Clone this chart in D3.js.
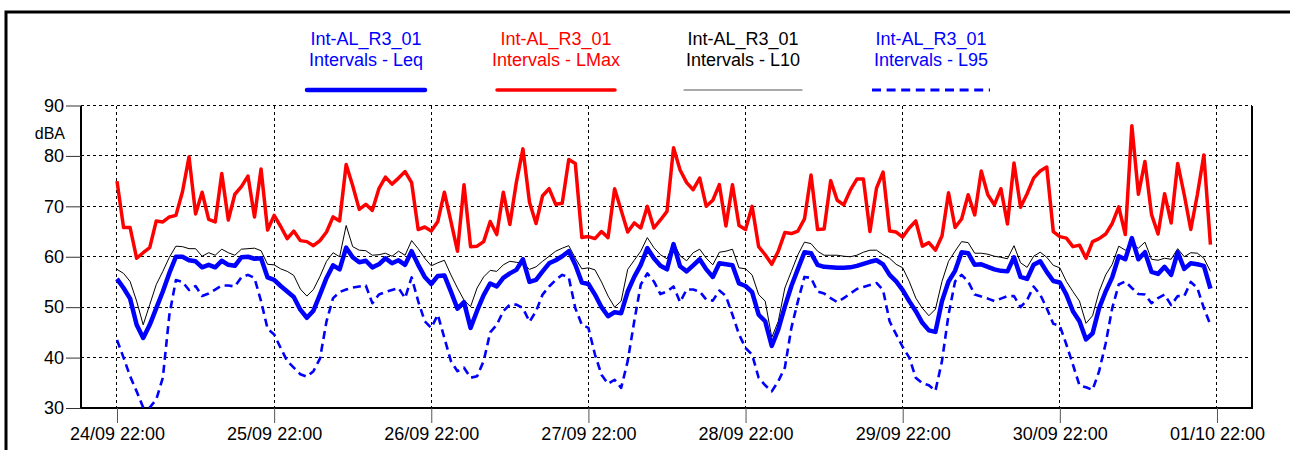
<!DOCTYPE html>
<html>
<head>
<meta charset="utf-8">
<script src="https://cdn.jsdelivr.net/npm/d3@7"></script>
<style>
  body { margin: 0; background: #fff; }
  svg { display: block; }
  text { font-family: "Liberation Sans", Arial, sans-serif; }
</style>
</head>
<body>
<svg id="chart" width="1290" height="450"></svg>
<script>
// ---------- data ----------
const startTime = new Date(2023, 8, 24, 22, 0, 0); // 24/09 22:00, hourly intervals
const tickLabels = ["24/09 22:00", "25/09 22:00", "26/09 22:00", "27/09 22:00",
                    "28/09 22:00", "29/09 22:00", "30/09 22:00", "01/10 22:00"];
const yTicks = [30, 40, 50, 60, 70, 80, 90];
const yUnit = "dBA";
const seriesTitle = ["Int-AL_R3_01", "Int-AL_R3_01", "Int-AL_R3_01", "Int-AL_R3_01"];
const seriesNames = ["Intervals - Leq", "Intervals - LMax", "Intervals - L10", "Intervals - L95"];

const leq = [
  55.6, 53.8, 51.7, 46.5, 43.9, 46.5, 49.8, 53.1, 56.8, 60.0, 60.0, 59.3, 59.1, 57.9, 58.4, 57.9, 59.2, 58.4, 58.2, 59.9, 60.0, 59.6, 59.7, 55.9, 55.4, 54.2, 53.1, 52.0, 49.5,
  47.9, 49.3, 52.5, 55.8, 58.3, 57.5, 61.8, 59.9, 58.9, 59.2, 57.9, 58.5, 59.7, 58.7, 59.3, 58.4, 61.1, 58.4, 56.0, 54.6, 56.2, 56.3, 53.1, 49.7, 51.0, 45.9, 49.3, 52.4, 54.7,
  54.1, 55.8, 56.7, 57.4, 59.5, 55.0, 55.4, 57.1, 58.7, 59.3, 60.1, 61.1, 58.4, 54.9, 54.6, 52.5, 50.0, 48.2, 49.0, 48.8, 53.1, 56.0, 58.4, 61.7, 59.7, 58.2, 57.5, 62.5, 58.1,
  57.1, 58.3, 59.5, 57.5, 56.0, 58.7, 58.5, 58.3, 54.7, 54.2, 53.0, 48.5, 47.2, 42.3, 45.6, 50.1, 54.2, 57.6, 60.9, 60.7, 58.4, 58.0, 57.9, 57.8, 57.8, 57.9, 58.2, 58.6, 59.0,
  59.3, 58.5, 56.4, 55.1, 53.4, 51.2, 49.2, 46.9, 45.4, 45.1, 51.2, 55.1, 57.2, 60.9, 60.7, 58.4, 58.5, 58.0, 57.5, 57.2, 57.1, 59.9, 56.0, 55.6, 58.4, 59.1, 57.0, 55.2, 54.9,
  52.5, 49.2, 47.2, 43.6, 44.8, 49.8, 53.1, 55.9, 60.1, 59.5, 63.7, 59.5, 60.9, 57.0, 56.6, 58.0, 56.4, 60.9, 57.6, 58.7, 58.5, 58.2, 53.7
];
const lmax = [
  75.0, 65.8, 65.8, 59.7, 60.8, 61.8, 67.1, 66.9, 67.9, 68.2, 72.9, 79.8, 68.5, 72.8, 67.4, 66.9, 76.5, 67.3, 72.4, 73.9, 76.0, 67.9, 77.4, 65.3, 68.2, 66.0, 63.6, 65.1, 63.2,
  63.0, 62.2, 63.2, 64.9, 67.9, 67.1, 78.3, 74.1, 69.4, 70.4, 69.2, 73.5, 75.8, 74.4, 75.6, 76.9, 74.7, 65.4, 65.9, 65.1, 67.0, 72.8, 67.0, 61.1, 74.3, 62.0, 62.1, 63.0, 67.0,
  64.4, 72.8, 66.4, 74.8, 81.4, 70.8, 66.6, 72.1, 73.5, 70.4, 70.6, 79.3, 78.5, 63.8, 64.0, 63.6, 65.0, 63.8, 73.5, 69.2, 64.9, 66.7, 65.7, 70.0, 65.7, 67.3, 69.0, 81.6, 77.2,
  74.7, 73.3, 75.6, 70.0, 71.2, 74.3, 66.1, 74.3, 66.2, 65.4, 70.0, 62.0, 60.4, 58.5, 61.1, 64.8, 64.6, 65.1, 67.5, 76.2, 65.4, 65.5, 75.1, 71.2, 70.3, 73.2, 75.4, 75.4, 65.0,
  73.6, 76.8, 65.1, 64.9, 63.9, 65.7, 67.1, 62.1, 62.8, 61.3, 64.1, 72.7, 65.8, 67.5, 72.3, 68.3, 77.0, 72.3, 70.3, 73.5, 66.5, 78.6, 69.8, 72.5, 75.6, 77.0, 77.8, 65.0, 64.0,
  63.7, 62.0, 62.3, 59.7, 63.0, 63.6, 64.5, 66.6, 69.9, 64.4, 86.0, 72.4, 78.9, 68.4, 64.5, 72.5, 66.7, 78.5, 72.3, 65.4, 72.3, 80.2, 62.4
];
const l10 = [
  57.5, 56.7, 55.1, 51.2, 46.5, 50.5, 54.5, 57.1, 59.9, 62.1, 62.0, 61.6, 61.6, 60.1, 60.8, 60.3, 61.5, 60.8, 60.3, 61.5, 61.6, 61.7, 61.2, 58.5, 58.4, 57.6, 57.1, 56.3, 53.6,
  52.2, 53.5, 56.1, 59.1, 60.8, 60.0, 66.2, 62.0, 61.3, 61.2, 60.3, 60.4, 60.7, 60.1, 61.1, 60.3, 63.2, 61.6, 59.7, 58.2, 58.8, 59.3, 56.4, 53.8, 51.4, 50.1, 53.8, 56.0, 57.3,
  57.1, 58.4, 59.1, 58.9, 58.7, 57.5, 58.0, 59.1, 60.1, 61.1, 61.7, 62.2, 59.7, 57.6, 57.8, 57.4, 55.0, 52.2, 50.0, 51.2, 57.5, 59.3, 61.1, 63.8, 61.8, 60.4, 59.6, 62.8, 60.2,
  59.2, 60.8, 61.5, 59.7, 58.4, 60.9, 61.1, 61.5, 57.8, 57.6, 56.4, 52.5, 51.2, 44.0, 47.2, 53.8, 57.1, 60.4, 62.9, 62.6, 61.1, 60.3, 60.3, 60.3, 60.1, 60.0, 60.3, 60.9, 61.3,
  61.3, 60.4, 59.7, 58.5, 57.8, 55.1, 51.8, 49.8, 48.3, 49.6, 55.1, 59.1, 61.1, 63.0, 62.8, 60.7, 60.7, 60.5, 60.1, 59.9, 59.6, 62.2, 58.8, 57.9, 60.1, 60.9, 59.9, 58.3, 57.8,
  55.1, 53.1, 51.2, 46.8, 48.3, 53.1, 56.4, 58.5, 62.1, 61.3, 62.4, 61.7, 62.9, 59.5, 59.3, 59.7, 59.5, 61.6, 60.0, 60.8, 60.7, 59.7, 57.1
];
const l95 = [
  43.5, 40.0, 36.3, 33.3, 30.1, 30.1, 31.7, 36.0, 48.5, 55.4, 55.0, 53.4, 54.2, 52.2, 52.7, 53.5, 54.3, 54.3, 54.1, 55.9, 56.4, 55.8, 51.2, 45.7, 44.6, 41.9, 39.3, 38.0, 36.7,
  36.2, 37.3, 39.8, 47.2, 51.8, 53.0, 53.5, 53.9, 54.1, 54.3, 50.8, 52.5, 53.0, 53.4, 53.8, 51.8, 55.9, 51.2, 47.2, 45.9, 48.5, 43.9, 39.3, 37.3, 38.0, 36.0, 36.3, 39.3, 45.0,
  46.5, 49.2, 50.5, 50.5, 49.8, 47.1, 49.2, 52.5, 54.1, 55.4, 56.4, 55.9, 49.8, 46.5, 45.9, 40.6, 36.6, 34.8, 35.6, 34.0, 39.3, 47.2, 54.5, 56.7, 55.1, 52.6, 53.1, 54.1, 51.0,
  53.5, 53.5, 53.1, 51.5, 51.3, 53.3, 52.2, 48.5, 44.6, 41.9, 40.6, 36.0, 34.5, 33.3, 35.3, 38.0, 45.9, 51.2, 56.0, 55.8, 53.1, 52.7, 51.8, 51.0, 51.8, 52.7, 53.6, 54.0, 54.4,
  54.8, 53.4, 47.2, 44.6, 42.1, 40.0, 36.0, 34.9, 34.5, 33.4, 39.3, 48.5, 55.1, 56.4, 55.1, 52.5, 52.1, 51.7, 51.2, 51.7, 52.2, 52.2, 50.0, 51.4, 54.1, 52.5, 49.8, 46.7, 46.3,
  42.6, 38.6, 34.5, 34.1, 33.6, 37.3, 42.8, 49.8, 54.5, 55.1, 53.8, 52.6, 52.5, 50.8, 51.8, 52.5, 50.4, 52.2, 52.2, 55.0, 53.8, 49.8, 46.5
];

// ---------- layout ----------
const svg = d3.select("#chart");
const plot = { left: 81, right: 1252, top: 105.5, bottom: 408 };
const HOUR = 3600 * 1000;
const times = leq.map((_, i) => new Date(startTime.getTime() + i * HOUR));
const tickDates = tickLabels.map((_, i) => new Date(startTime.getTime() + i * 24 * HOUR));

const x = d3.scaleTime()
  .domain([new Date(startTime.getTime() - 5.498 * HOUR), new Date(startTime.getTime() + 173.35 * HOUR)])
  .range([plot.left, plot.right]);
const y = d3.scaleLinear().domain([30, 90]).range([plot.bottom, plot.top]);

// outer frame
svg.append("path")
  .attr("d", "M6,452 L6,12 L1292,12")
  .attr("fill", "none").attr("stroke", "#000").attr("stroke-width", 3);

// grid
const grid = svg.append("g");
grid.selectAll("line.h").data(yTicks.filter(v => v > 30)).join("line")
  .attr("x1", plot.left).attr("x2", plot.right)
  .attr("y1", d => y(d)).attr("y2", d => y(d))
  .attr("stroke", "#000").attr("stroke-width", 1).attr("stroke-dasharray", "3,3")
  .attr("shape-rendering", "crispEdges");
grid.selectAll("line.v").data(tickDates).join("line")
  .attr("x1", d => x(d)).attr("x2", d => x(d))
  .attr("y1", plot.top).attr("y2", plot.bottom)
  .attr("stroke", "#000").attr("stroke-width", 1).attr("stroke-dasharray", "3,3")
  .attr("shape-rendering", "crispEdges");

// plot borders (left, right, bottom solid)
svg.append("path")
  .attr("d", `M${plot.left},${plot.top} L${plot.left},${plot.bottom} L${plot.right},${plot.bottom} L${plot.right},${plot.top}`)
  .attr("fill", "none").attr("stroke", "#000").attr("stroke-width", 1.2)
  .attr("shape-rendering", "crispEdges");

// axes
const yAxis = d3.axisLeft(y).tickValues(yTicks).tickSize(15).tickPadding(2).tickFormat(d3.format("d"));
const gy = svg.append("g").attr("transform", `translate(${plot.left},0)`).call(yAxis);
gy.select(".domain").remove();
gy.selectAll(".tick line").attr("stroke", "#333");
gy.selectAll(".tick text").attr("font-size", 18).attr("fill", "#000")
  .attr("font-family", '"Liberation Sans", Arial, sans-serif');

const xAxis = d3.axisBottom(x).tickValues(tickDates).tickSize(15).tickPadding(4)
  .tickFormat((d, i) => tickLabels[i]);
const gx = svg.append("g").attr("transform", `translate(0,${plot.bottom})`).call(xAxis);
gx.select(".domain").remove();
gx.selectAll(".tick line").attr("stroke", "#555");
gx.selectAll(".tick text").attr("font-size", 18).attr("fill", "#000")
  .attr("font-family", '"Liberation Sans", Arial, sans-serif');

svg.append("text").attr("x", 65).attr("y", 139).attr("text-anchor", "end")
  .attr("font-size", 16).text(yUnit);

// clip
svg.append("defs").append("clipPath").attr("id", "clip")
  .append("rect").attr("x", plot.left).attr("y", plot.top - 3)
  .attr("width", plot.right - plot.left).attr("height", plot.bottom - plot.top + 3);

const line = d3.line().x((d, i) => x(times[i])).y(d => y(d)).curve(d3.curveLinear);

const styles = [
  { data: leq,  color: "#0000ff", width: 4.5, dash: null },
  { data: lmax, color: "#ff0000", width: 3.5, dash: null },
  { data: l10,  color: "#000000", width: 1,   dash: null },
  { data: l95,  color: "#0000ff", width: 2.6, dash: "8,5" }
];
const drawOrder = [3, 2, 1, 0];
const lines = svg.append("g").attr("clip-path", "url(#clip)");
drawOrder.forEach(k => {
  const s = styles[k];
  lines.append("path").datum(s.data)
    .attr("d", line)
    .attr("fill", "none")
    .attr("stroke", s.color)
    .attr("stroke-width", s.width)
    .attr("stroke-linejoin", "round")
    .attr("stroke-dasharray", s.dash);
});

// legend
const legendX = [366, 556, 743, 931];
const legendColors = ["#0000ff", "#ff0000", "#000000", "#0000ff"];
const leg = svg.append("g");
seriesNames.forEach((name, i) => {
  const cx = legendX[i];
  const g = leg.append("g");
  g.append("text").attr("x", cx).attr("y", 45).attr("text-anchor", "middle")
    .attr("font-size", 18).attr("fill", legendColors[i]).text(seriesTitle[i]);
  g.append("text").attr("x", cx).attr("y", 66).attr("text-anchor", "middle")
    .attr("font-size", 18).attr("fill", legendColors[i]).text(name);
  const s = styles[i];
  g.append("line").attr("x1", cx - 59).attr("x2", cx + 59).attr("y1", 90).attr("y2", 90)
    .attr("stroke", i === 2 ? "#555" : s.color)
    .attr("stroke-width", i === 2 ? 1.2 : (i === 3 ? 3 : s.width))
    .attr("stroke-linecap", i === 3 ? "butt" : "round")
    .attr("stroke-dasharray", i === 3 ? "9,5.6" : null);
});
</script>
</body>
</html>
